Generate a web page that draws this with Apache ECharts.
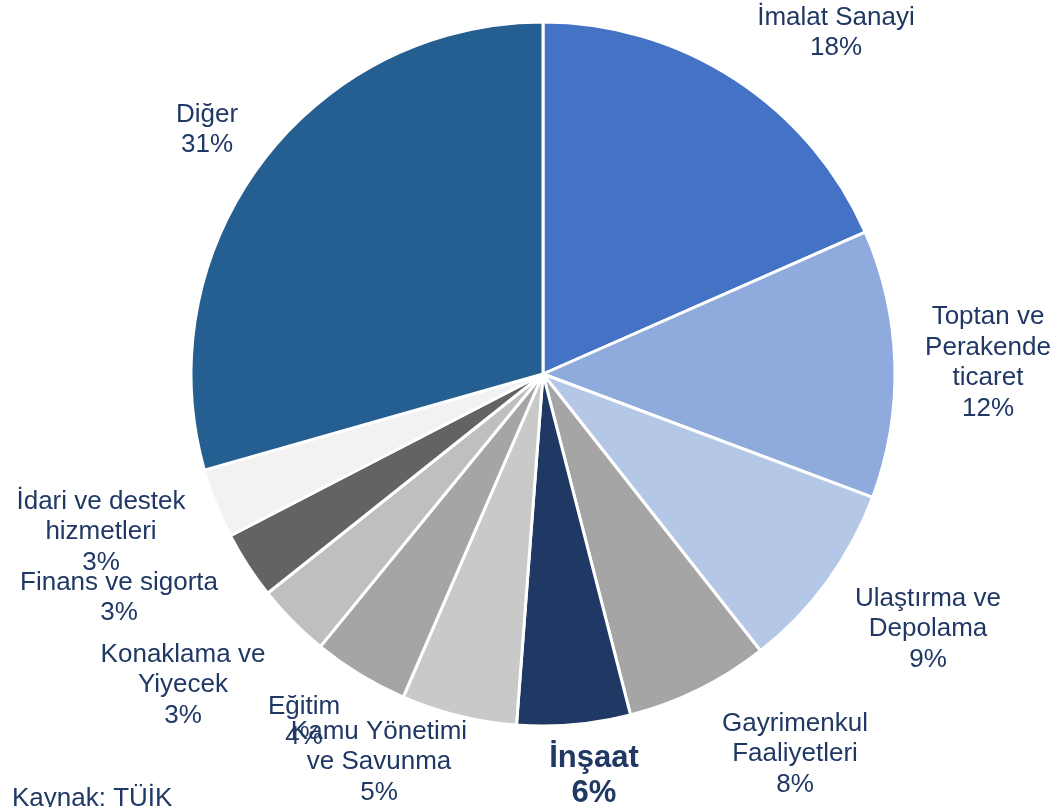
<!DOCTYPE html>
<html>
<head>
<meta charset="utf-8">
<script src="https://cdn.jsdelivr.net/npm/echarts@6/dist/echarts.min.js"></script>
<style>
html, body { margin: 0; padding: 0; background: #fff; }
#main { width: 1055px; height: 807px; }
</style>
</head>
<body>
<div id="main"></div>
<script>
// sektör adları (saat yönünde, tepeden başlayarak)
var categories = ['İmalat Sanayi', 'Toptan ve Perakende ticaret', 'Ulaştırma ve Depolama',
	'Gayrimenkul Faaliyetleri', 'İnşaat', 'Kamu Yönetimi ve Savunma', 'Eğitim',
	'Konaklama ve Yiyecek', 'Finans ve sigorta', 'İdari ve destek hizmetleri', 'Diğer'];
// dilim payları (resimdeki açılardan okunan)
var shares = [18.4, 12.3, 8.7, 6.6, 5.2, 5.3, 4.4, 3.4, 3.1, 3.2, 29.4];
// etiketlerde yazan yüzdeler
var pctLabels = ['18%', '12%', '9%', '8%', '6%', '5%', '4%', '3%', '3%', '3%', '31%'];
// etiket satırları
var labelNames = ['İmalat Sanayi', 'Toptan ve\nPerakende\nticaret', 'Ulaştırma ve\nDepolama',
	'Gayrimenkul\nFaaliyetleri', 'İnşaat', 'Kamu Yönetimi\nve Savunma', 'Eğitim',
	'Konaklama ve\nYiyecek', 'Finans ve sigorta', 'İdari ve destek\nhizmetleri', 'Diğer'];

var colors = ['#4472C4', '#8FAADC', '#B4C7E7', '#A5A5A5', '#203864', '#C9C9C9',
	'#A5A5A5', '#BFBFBF', '#636363', '#F2F2F2', '#255E91'];
// etiket merkezleri (piksel)
var labelPos = [[836, 33], [988, 363], [928, 629], [795, 754], [594, 776], [379, 762],
	[304, 722], [183, 685], [119, 598], [101, 532], [207, 130]];

var myChart = echarts.init(document.getElementById('main'));

var data = [];
for (var i = 0; i < categories.length; i++) {
	var item = {
		name : categories[i],
		value : shares[i],
		itemStyle : { color : colors[i] }
	};
	if (i === 4) {
		item.label = { fontWeight : 'bold', fontSize : 31, lineHeight : 35 };
	}
	data.push(item);
}

var option = {
	animation : false,
	series : [ {
		type : 'pie',
		center : [543, 374],
		radius : 352,
		startAngle : 90,
		clockwise : true,
		avoidLabelOverlap : false,
		itemStyle : {
			borderColor : '#ffffff',
			borderWidth : 3
		},
		label : {
			show : true,
			position : 'outside',
			color : '#203864',
			fontFamily : 'Liberation Sans, Arial, sans-serif',
			fontSize : 26,
			lineHeight : 30.5,
			align : 'center',
			formatter : function(p) {
				return labelNames[p.dataIndex] + '\n' + pctLabels[p.dataIndex];
			}
		},
		labelLine : { show : false },
		labelLayout : function(p) {
			var pos = labelPos[p.dataIndex];
			return {
				x : pos[0],
				y : pos[1],
				align : 'center',
				verticalAlign : 'middle',
				hideOverlap : false
			};
		},
		data : data
	} ],
	graphic : [ {
		type : 'text',
		left : 12,
		top : 786,
		style : {
			text : 'Kaynak: TÜİK',
			fill : '#203864',
			font : '26px "Liberation Sans", Arial, sans-serif'
		}
	} ]
};

myChart.setOption(option);
</script>
</body>
</html>
